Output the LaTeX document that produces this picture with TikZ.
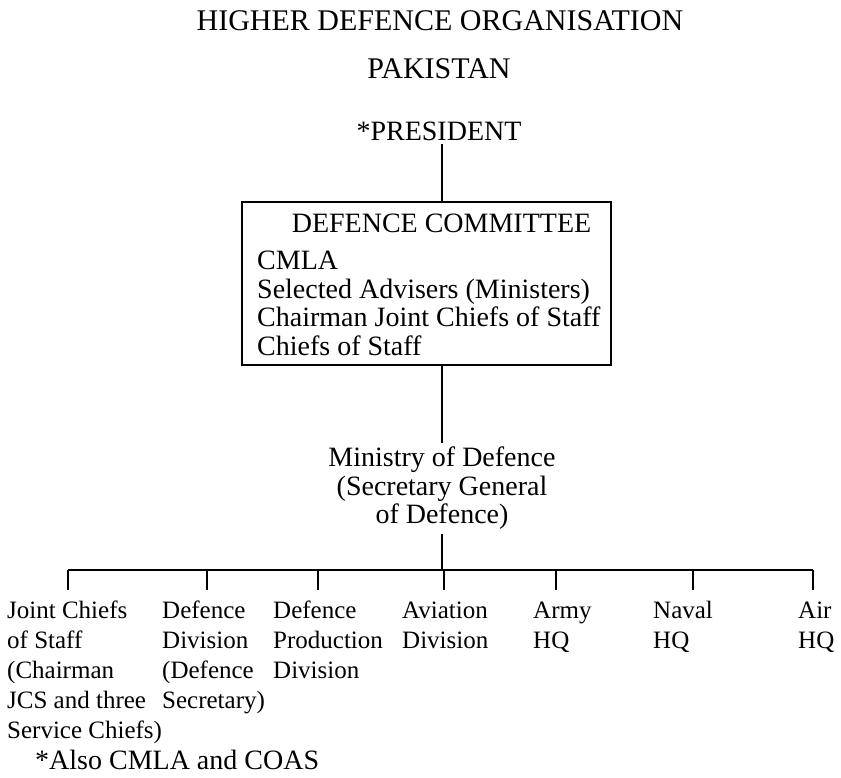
\documentclass[tikz,border=0pt]{standalone}
\usepackage{fontspec}
\setmainfont{Liberation Serif}
\usetikzlibrary{positioning}
\newcommand{\colstack}[1]{\begin{tabular}[t]{@{}l@{}}#1\end{tabular}}
\tikzset{
  wire/.style={black,line width=1.6pt},
  titletext/.style={font=\fontsize{30}{34}\selectfont,inner sep=0pt},
  bigtext/.style={font=\fontsize{28}{28.5}\selectfont,inner sep=0pt},
  coltext/.style={font=\fontsize{25}{30}\selectfont,inner sep=0pt,anchor=base west},
  dcbox/.style={draw,line width=1.6pt,minimum width=369pt,minimum height=163pt,inner sep=0pt},
}
\begin{document}
\begin{tikzpicture}[x=1pt,y=-1pt]
  \useasboundingbox (0,0) rectangle (841,777);
  \node[titletext,anchor=base] (title) at (440,30) {HIGHER DEFENCE ORGANISATION};
  \node[titletext,anchor=base] (pak) at (439,78) {PAKISTAN};
  \node[bigtext,anchor=base,inner sep=4pt] (pres) at (439,140) {*PRESIDENT};

  % defence committee
  \node[dcbox] (dc) at (426.5,283.5) {};
  \node[bigtext,anchor=base] (dchead) at (441.5,232) {DEFENCE COMMITTEE};
  \node[bigtext,anchor=north west,align=left,execute at begin node=\rule{0pt}{19pt}] (dclist) at (257,251)
    {CMLA\\Selected Advisers (Ministers)\\Chairman Joint Chiefs of Staff\\Chiefs of Staff};

  \node[bigtext,anchor=north,align=center,inner sep=4pt] (mod) at (442,443)
    {Ministry of Defence\\(Secretary General\\of Defence)};

  \draw[wire] (pres.south -| mod.north) -- (dc.north -| mod.north);
  \draw[wire] (dc.south -| mod.north) -- (mod.north);

  % lower row
  \node[coltext] (jcs) at (7,618) {\colstack{Joint Chiefs\\of Staff\\(Chairman\\JCS and three\\Service Chiefs)}};
  \node[coltext] (ddiv) at (162,618) {\colstack{Defence\\Division\\(Defence\\Secretary)}};
  \node[coltext] (dprod) at (273,618) {\colstack{Defence\\Production\\Division}};
  \node[coltext] (avn) at (402,618) {\colstack{Aviation\\Division}};
  \node[coltext] (army) at (533,618) {\colstack{Army\\HQ}};
  \node[coltext] (navy) at (653,618) {\colstack{Naval\\HQ}};
  \node[coltext] (air) at (798,618) {\colstack{Air\\HQ}};
  \node[bigtext,anchor=base west] (note) at (35,769) {*Also CMLA and COAS};

  \coordinate (barL) at (68,570);
  \coordinate (barR) at (813,570);
  \draw[wire] (mod.south) -- (mod.south |- barL);
  \draw[wire] (barL) -- (barR);
  \foreach \nm/\x in {jcs/68,ddiv/207,dprod/318,avn/444,army/556,navy/693,air/813}{
    \coordinate (t\nm) at (\x,570);
    \draw[wire,shorten >=7pt] (t\nm) -- (t\nm |- \nm.north);
  }
\end{tikzpicture}
\end{document}
